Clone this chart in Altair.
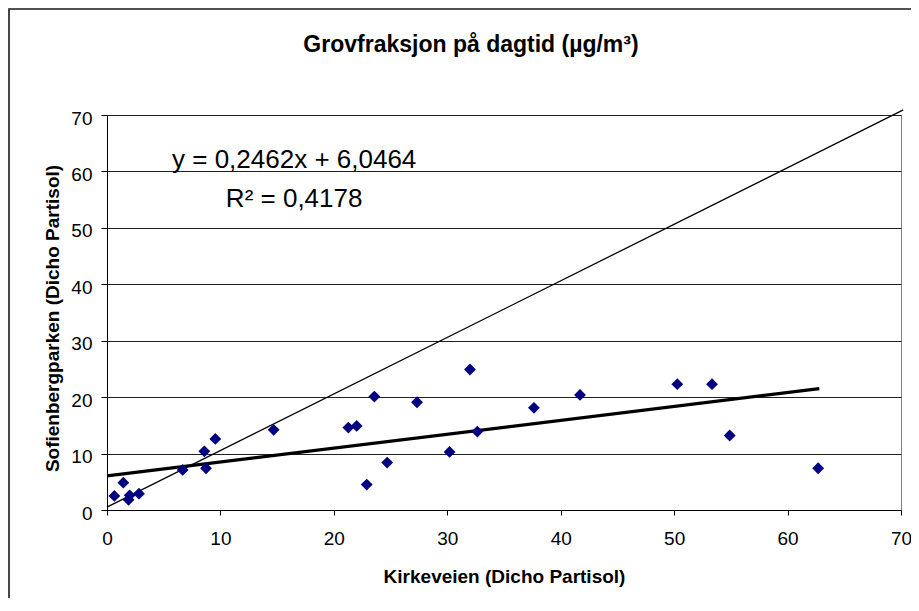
import altair as alt
import pandas as pd

# Scatter data
kirkeveien = [0.65, 1.44, 1.9, 2.0, 2.82, 6.67, 8.58, 8.73, 9.55, 14.69,
              21.28, 22.01, 22.9, 23.57, 24.7, 27.33, 30.2, 32.0, 32.65,
              37.64, 41.7, 50.28, 53.34, 54.9, 62.7]
sofienberg = [2.5, 4.85, 1.8, 2.6, 2.9, 7.1, 10.4, 7.4, 12.6, 14.2,
              14.6, 14.9, 4.5, 20.1, 8.4, 19.1, 10.3, 24.9, 13.9,
              18.1, 20.4, 22.3, 22.3, 13.2, 7.4]

# Linear trend line (y = 0,2462x + 6,0464) endpoints
trend_x = [0.0, 62.8]
trend_y = [6.05, 21.5]

# 1:1 reference line endpoints as drawn
diag_x = [0.0, 70.2]
diag_y = [0.5, 70.9]

# Equation annotation
eq_text = ["y = 0,2462x + 6,0464", "R² = 0,4178"]
eq_x = [16.5, 16.5]
eq_y = [60.6, 53.75]

title_text = ["Grovfraksjon på dagtid (µg/m³)"]

ticks = [0, 10, 20, 30, 40, 50, 60, 70]

FONT = "Liberation Sans"

pts = pd.DataFrame({"x": kirkeveien, "y": sofienberg})
trend = pd.DataFrame({"x": trend_x, "y": trend_y})
diag = pd.DataFrame({"x": diag_x, "y": diag_y})
eq = pd.DataFrame({"x": eq_x, "y": eq_y, "t": eq_text})
one = pd.DataFrame({"t": title_text})

xscale = alt.Scale(domain=[0, 70], nice=False, zero=False)
yscale = alt.Scale(domain=[0, 70], nice=False, zero=False)

xaxis = alt.Axis(values=ticks, grid=False, title="Kirkeveien (Dicho Partisol)",
                 labelFontSize=19, labelFont=FONT, labelColor="black",
                 labelPadding=14, labelFlush=False, tickSize=5, tickColor="black",
                 domainColor="black", titleFont=FONT, titleFontSize=19,
                 titleFontWeight="bold", titleColor="black", titleY=72,
                 titleX=397, titleBaseline="alphabetic", titleAlign="center")
yaxis = alt.Axis(values=ticks, grid=True, gridColor="#202020", gridWidth=1,
                 title="Sofienbergparken (Dicho Partisol)",
                 labelFontSize=19, labelFont=FONT, labelColor="black",
                 labelPadding=9, labelFlush=False, labelOffset=3,
                 tickSize=6, tickColor="black", domainColor="black",
                 titleFont=FONT, titleFontSize=19, titleFontWeight="bold",
                 titleColor="black", titleX=-49, titleY=203,
                 titleBaseline="alphabetic", titleAlign="center")

base_x = alt.X("x:Q", scale=xscale, axis=xaxis)
base_y = alt.Y("y:Q", scale=yscale, axis=yaxis)

frame = alt.Chart(one).mark_rect(fillOpacity=0, stroke="#1a1a1a", strokeWidth=1.6).encode(
    x=alt.value(-98), y=alt.value(-106), x2=alt.value(1000), y2=alt.value(1000)
)

diag_line = alt.Chart(diag).mark_line(color="black", strokeWidth=1.3, clip=False).encode(
    x=base_x, y=base_y
)

trend_line = alt.Chart(trend).mark_line(color="black", strokeWidth=3.2).encode(
    x=alt.X("x:Q", scale=xscale), y=alt.Y("y:Q", scale=yscale)
)

points = alt.Chart(pts).mark_point(shape="diamond", filled=True, size=140,
                                   color="#000080", opacity=1).encode(
    x=alt.X("x:Q", scale=xscale), y=alt.Y("y:Q", scale=yscale)
)

eq_marks = alt.Chart(eq).mark_text(font=FONT, fontSize=26, align="center",
                                   baseline="alphabetic", color="black").encode(
    x=alt.X("x:Q", scale=xscale), y=alt.Y("y:Q", scale=yscale), text="t:N"
)

title = alt.Chart(one).mark_text(font=FONT, fontSize=23, fontWeight="bold",
                                 align="center", baseline="alphabetic",
                                 color="black").encode(
    x=alt.value(364), y=alt.value(-63), text="t:N"
)

chart = alt.layer(frame, diag_line, trend_line, points, eq_marks, title).properties(
    width=794, height=395,
    autosize=alt.AutoSizeParams(type="none"),
    padding={"left": 99, "top": 107, "right": 10, "bottom": 88},
    background="white",
).configure_view(stroke="#808080", strokeWidth=1)

chart.save("out.html", embed_options={"renderer": "svg", "actions": False})
